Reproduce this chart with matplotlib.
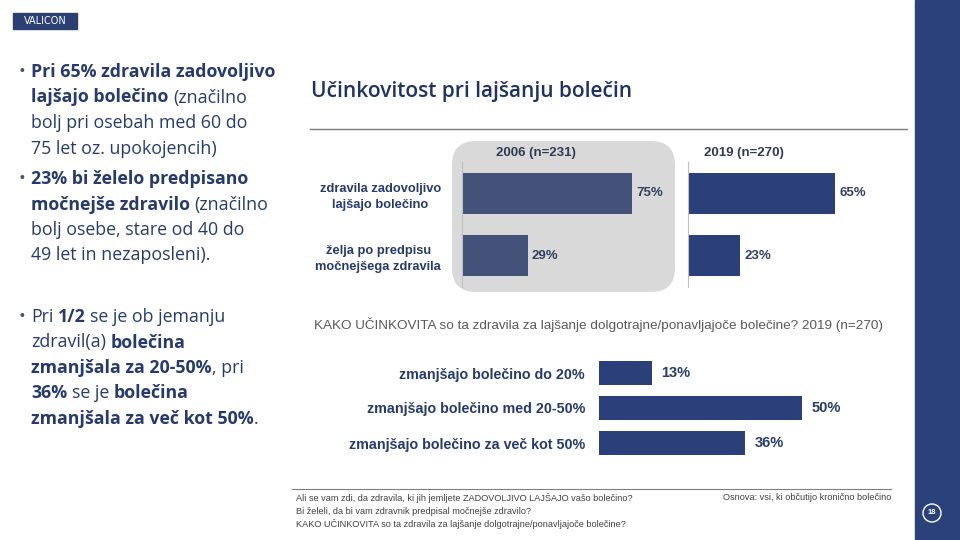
import matplotlib
matplotlib.use('Agg')
import matplotlib.pyplot as plt
from matplotlib import font_manager
from matplotlib.patches import FancyBboxPatch, Rectangle, Circle
from matplotlib.transforms import IdentityTransform

# --- data ---
cats_top = ['zdravila zadovoljivo\nlajšajo bolečino', 'želja po predpisu\nmočnejšega zdravila']
vals_2006 = [75, 29]
vals_2019 = [65, 23]
hdr_2006 = '2006 (n=231)'
hdr_2019 = '2019 (n=270)'

cats_bot = ['zmanjšajo bolečino do 20%', 'zmanjšajo bolečino med 20-50%',
            'zmanjšajo bolečino za več kot 50%']
vals_bot = [13, 50, 36]

title = 'Učinkovitost pri lajšanju bolečin'
subtitle = 'KAKO UČINKOVITA so ta zdravila za lajšanje dolgotrajne/ponavljajoče bolečine? 2019 (n=270)'
footer_q = ['Ali se vam zdi, da zdravila, ki jih jemljete ZADOVOLJIVO LAJŠAJO vašo bolečino?',
            'Bi želeli, da bi vam zdravnik predpisal močnejše zdravilo?',
            'KAKO UČINKOVITA so ta zdravila za lajšanje dolgotrajne/ponavljajoče bolečine?']
footer_base = 'Osnova: vsi, ki občutijo kronično bolečino'
page_no = '18'

bullets = [
    [[('Pri 65% zdravila zadovoljivo', 1)],
     [('lajšajo bolečino', 1), (' (značilno', 0)],
     [('bolj pri osebah med 60 do', 0)],
     [('75 let oz. upokojencih)', 0)]],
    [[('23% bi želelo predpisano', 1)],
     [('močnejše zdravilo', 1), (' (značilno', 0)],
     [('bolj osebe, stare od 40 do', 0)],
     [('49 let in nezaposleni).', 0)]],
    [[('Pri ', 0), ('1/2', 1), (' se je ob jemanju', 0)],
     [('zdravil(a) ', 0), ('bolečina', 1)],
     [('zmanjšala za 20-50%', 1), (', pri', 0)],
     [('36%', 1), (' se je ', 0), ('bolečina', 1)],
     [('zmanjšala za več kot 50%', 1), ('.', 0)]],
]
bullet_y = [72, 179, 317]

# --- style ---
W, H = 960, 540
NAVY = '#263b6b'
BAR06 = '#44527a'
BAR19 = '#2b4079'
SIDE = '#2a4279'
names = {f.name for f in font_manager.fontManager.ttflist}
NARROW = 'Liberation Sans Narrow' if 'Liberation Sans Narrow' in names else 'Liberation Sans'
MAIN = 'Open Sans'

fig = plt.figure(figsize=(9.6, 5.4), dpi=100)
fig.patch.set_facecolor('white')


def fx(x):
    return x / W


def fy(y):
    return 1 - y / H


# side bar and page number
fig.add_artist(Rectangle((fx(915), 0), 45 / W, 1, transform=fig.transFigure,
                         color=SIDE, zorder=-2))
fig.add_artist(Circle((932, H - 513), 9, transform=IdentityTransform(),
                      fill=False, ec='white', lw=1))
fig.text(fx(932), fy(513), page_no, color='white', fontsize=5.5,
         ha='center', va='center', family=NARROW, weight='bold')

# logo
fig.add_artist(Rectangle((fx(13), fy(29)), 64 / W, 16 / H, transform=fig.transFigure,
                         color='#2b3f73'))
fig.text(fx(45), fy(21), 'VALICON', color='white', fontsize=7, ha='center',
         va='center', family='DejaVu Sans')

# left bullet text
r = fig.canvas.get_renderer()
MS = 12.8


def mtext(x, y, s, bold, **kw):
    return fig.text(fx(x), fy(y), s, fontsize=MS, family=MAIN, stretch='normal',
                    weight='bold' if bold else 'normal', **kw)


def width(s, bold):
    t = mtext(0, 0, s, bold)
    w = t.get_window_extent(renderer=r).width
    t.remove()
    return w


sp = {b: width('a a', b) - width('aa', b) for b in (0, 1)}
LH = 25.5
for start, lines in zip(bullet_y, bullets):
    mtext(18, start, '•', 0, color='#44546a', ha='left', va='center')
    for i, runs in enumerate(lines):
        x = 31
        y = start + i * LH
        for txt, b in runs:
            if txt.startswith(' '):
                x += sp[b]
            t = mtext(x, y, txt.strip(), b, color=NAVY, ha='left', va='center')
            x += t.get_window_extent(renderer=r).width
            if txt.endswith(' '):
                x += sp[b]

# title and separator
fig.text(fx(311), fy(91), title, fontsize=15, family=MAIN, stretch='normal',
         weight='semibold', color='#1f3360', ha='left', va='center')
fig.add_artist(plt.Line2D([fx(310), fx(907)], [fy(129), fy(129)],
                          color='#7f7f7f', lw=1))

# grey box behind 2006
fig.add_artist(FancyBboxPatch((452, H - 292), 223, 151,
                              boxstyle='round,pad=0,rounding_size=24',
                              transform=IdentityTransform(), fc='#d9d9d9',
                              ec='none', zorder=-1))

# top charts
ax06 = fig.add_axes([fx(462), fy(287), 204 / W, 125 / H])
ax19 = fig.add_axes([fx(688), fy(287), 204 / W, 125 / H])
for ax, vals, col, hdr, hx in [(ax06, vals_2006, BAR06, hdr_2006, 536),
                               (ax19, vals_2019, BAR19, hdr_2019, 744)]:
    ax.set_facecolor('none')
    ax.barh(range(len(vals)), vals, height=0.66, color=col)
    ax.set_xlim(0, 90)
    ax.set_ylim(len(vals) - 0.5, -0.5)
    for s in ['top', 'right', 'bottom']:
        ax.spines[s].set_visible(False)
    ax.spines['left'].set_color('#bfbfbf')
    ax.spines['left'].set_linewidth(0.8)
    ax.set_xticks([])
    ax.tick_params(axis='y', length=0, pad=15)
    for i, v in enumerate(vals):
        ax.text(v + 1.8, i, f'{v}%', va='center', ha='left', fontsize=9.5,
                family=NARROW, weight='bold', color='#333f5c')
    fig.text(fx(hx), fy(153), hdr, fontsize=9.5, family=NARROW, weight='bold',
             color='#2f3b55', ha='center', va='center')
ax06.set_yticks(range(len(cats_top)))
ax06.set_yticklabels(cats_top, fontsize=9.3, family=NARROW, weight='bold', color=NAVY,
                     linespacing=1.45)
for t in ax06.get_yticklabels():
    t.set_multialignment('center')
ax19.set_yticks([])

# bottom chart
fig.text(fx(314), fy(325), subtitle, fontsize=9.7, family=NARROW, color='#595959',
         ha='left', va='center')
axb = fig.add_axes([fx(599), fy(460.5), 243.6 / W, 105 / H])
axb.set_facecolor('none')
axb.barh(range(len(vals_bot)), vals_bot, height=0.686, color=BAR19)
axb.set_xlim(0, 60)
axb.set_ylim(len(vals_bot) - 0.5, -0.5)
for s in axb.spines.values():
    s.set_visible(False)
axb.set_xticks([])
axb.set_yticks(range(len(cats_bot)))
axb.set_yticklabels(cats_bot, fontsize=10.3, family=NARROW, weight='bold', color=NAVY)
axb.tick_params(axis='y', length=0, pad=10)
for i, v in enumerate(vals_bot):
    axb.text(v + 2.4, i, f'{v}%', va='center', ha='left', fontsize=10.5,
             family=NARROW, weight='bold', color=NAVY)

# footer
fig.add_artist(plt.Line2D([fx(292), fx(891)], [fy(489), fy(489)],
                          color='#7f7f7f', lw=0.8))
for i, q in enumerate(footer_q):
    fig.text(fx(296), fy(498 + i * 13), q, fontsize=6.6, family=NARROW,
             color='#404040', ha='left', va='center')
fig.text(fx(891), fy(498), footer_base, fontsize=6.6, family=NARROW,
         color='#404040', ha='right', va='center')

fig.savefig('out.png', dpi=100)
